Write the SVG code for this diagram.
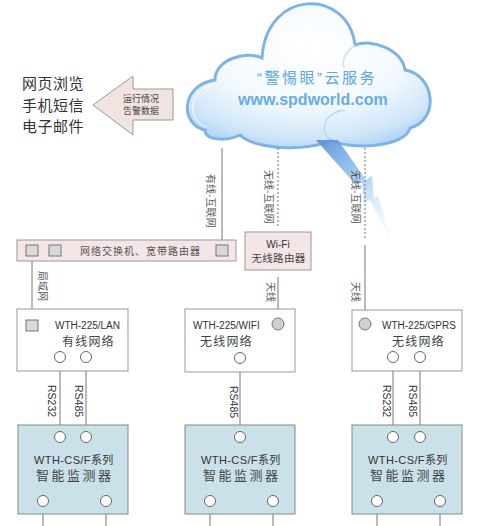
<svg xmlns="http://www.w3.org/2000/svg" width="480" height="526" viewBox="0 0 480 526">
<defs>
<radialGradient id="cloudFill" cx="0.5" cy="0.3" r="0.75">
<stop offset="0" stop-color="#ffffff"/>
<stop offset="0.55" stop-color="#f2f9fe"/>
<stop offset="0.85" stop-color="#cfe6f9"/>
<stop offset="1" stop-color="#a9d2f3"/>
</radialGradient>
<linearGradient id="bolt" x1="0" y1="0" x2="0.6" y2="1">
<stop offset="0" stop-color="#5b8fdc" stop-opacity="0.95"/>
<stop offset="0.5" stop-color="#8cc0ee" stop-opacity="0.8"/>
<stop offset="1" stop-color="#d5eafa" stop-opacity="0.3"/>
</linearGradient>
<style>
.cjk{font-family:"Noto Sans CJK SC",sans-serif;}
.lat{font-family:"Liberation Sans","Noto Sans CJK SC",sans-serif;}
.list{font-family:"Noto Sans CJK SC",sans-serif;font-size:15px;fill:#333;letter-spacing:0.5px;}
.vl{font-family:"Noto Sans CJK SC",sans-serif;font-size:10px;fill:#555;}
.rs{font-family:"Liberation Sans",sans-serif;font-size:10.5px;fill:#333;}
.box{fill:#fff;stroke:#999;stroke-width:1;}
.mon{fill:#cbe1e9;stroke:#888;stroke-width:1;}
.pink{fill:#f4e6e7;stroke:#999;stroke-width:1;}
.sq{fill:#d9d9d9;stroke:#777;stroke-width:1;}
.cw{fill:#fff;stroke:#666;stroke-width:1;}
.cg{fill:#d0d0d0;stroke:#777;stroke-width:1;}
.ln{stroke:#777;stroke-width:1;fill:none;}
.dot{stroke:#888;stroke-width:1.2;stroke-dasharray:2,2;fill:none;}
.model{font-family:"Liberation Sans",sans-serif;font-size:10px;fill:#333;}
.net{font-family:"Noto Sans CJK SC",sans-serif;font-size:12px;fill:#444;letter-spacing:1.2px;}
.m1{font-family:"Liberation Sans","Noto Sans CJK SC",sans-serif;font-size:11px;fill:#333;letter-spacing:0.4px;}
.m2{font-family:"Noto Sans CJK SC",sans-serif;font-size:13px;fill:#444;letter-spacing:2.5px;}
</style>
</defs>
<rect width="480" height="526" fill="#fff"/>

<g id="cloud">
<path d="M205,130 C180,125 180,85 215,80 C215,60 245,50 262,58 C266,-12 348,-12 355,45 C372,38 402,50 405,70 C435,75 440,120 410,128 C405,148 350,150 330,140 C310,152 255,150 240,135 C225,142 205,140 205,130 Z" fill="url(#cloudFill)" stroke="#7db4e8" stroke-width="3"/>
<path d="M207,127 C186,121 187,89 216,84" fill="none" stroke="#fff" stroke-width="1.2" opacity="0.8"/>
<path d="M330,140 C318,130 325,112 345,110" fill="none" stroke="#b9d9f4" stroke-width="1.5"/>
<path d="M355,45 C345,52 342,60 344,68" fill="none" stroke="#c4e0f6" stroke-width="1.5"/>
<polygon points="316,140 356,185 362,182 364,203 370,200 392,242 378,196 374,199 372,176 366,180 338,140" fill="url(#bolt)"/>
<text x="257" y="83" class="cjk" font-size="15" fill="#5ea6de" letter-spacing="2.5"><tspan font-family="Liberation Sans">“</tspan>警惕眼<tspan font-family="Liberation Sans">”</tspan>云服务</text>
<text x="238" y="105" class="lat" font-size="16" font-weight="bold" fill="#66ade3">www.spdworld.com</text>
</g>

<g id="clients">
<text x="22" y="89" class="list">网页浏览</text>
<text x="22" y="110.5" class="list">手机短信</text>
<text x="22" y="132" class="list">电子邮件</text>
</g>

<g id="data-arrow">
<polygon points="93,105 133,76 133,89 173,89 173,120 133,120 133,135" fill="#f1e4e0" stroke="#999" stroke-width="1"/>
<text x="141" y="102" class="cjk" font-size="9" fill="#444" text-anchor="middle">运行情况</text>
<text x="141" y="114" class="cjk" font-size="9" fill="#444" text-anchor="middle">告警数据</text>
</g>

<g id="connectors">
<line class="ln" x1="222" y1="148" x2="222" y2="245"/>
<line class="dot" x1="278" y1="148" x2="278" y2="226"/>
<line class="dot" x1="365" y1="148" x2="365" y2="238"/>
<line class="ln" x1="365" y1="245" x2="365" y2="318"/>
<line class="ln" x1="278" y1="277" x2="278" y2="318"/>
<line class="ln" x1="32" y1="256" x2="32" y2="320"/>
<line class="ln" x1="60" y1="362.5" x2="60" y2="431.5"/>
<line class="ln" x1="86" y1="362.5" x2="86" y2="431.5"/>
<line class="ln" x1="240" y1="363.5" x2="240" y2="431.5"/>
<line class="ln" x1="393" y1="362.5" x2="393" y2="431.5"/>
<line class="ln" x1="420" y1="362.5" x2="420" y2="431.5"/>
<line class="ln" x1="43" y1="506.5" x2="43" y2="526"/>
<line class="ln" x1="106" y1="506.5" x2="106" y2="526"/>
<line class="ln" x1="210" y1="506.5" x2="210" y2="526"/>
<line class="ln" x1="273" y1="506.5" x2="273" y2="526"/>
<line class="ln" x1="377" y1="506.5" x2="377" y2="526"/>
<line class="ln" x1="440" y1="506.5" x2="440" y2="526"/>
<text class="vl" transform="translate(207,174) rotate(90)">有线-互联网</text>
<text class="vl" transform="translate(265,170) rotate(90)">无线-互联网</text>
<text class="vl" transform="translate(352,170) rotate(90)">无线-互联网</text>
<text class="vl" transform="translate(39,271) rotate(90)">局域网</text>
<text class="vl" transform="translate(267,282) rotate(90)">天线</text>
<text class="vl" transform="translate(352,282) rotate(90)">天线</text>
<text class="rs" transform="translate(48,385) rotate(90)">RS232</text>
<text class="rs" transform="translate(75,385) rotate(90)">RS485</text>
<text class="rs" transform="translate(230,386) rotate(90)">RS485</text>
<text class="rs" transform="translate(383,385) rotate(90)">RS232</text>
<text class="rs" transform="translate(409,385) rotate(90)">RS485</text>
</g>

<g id="switch">
<rect x="17" y="240" width="219" height="21" class="pink"/>
<rect x="26" y="245" width="12" height="11" class="sq"/>
<rect x="49" y="245" width="12" height="11" class="sq"/>
<rect x="216" y="245" width="12" height="11" class="sq"/>
<text x="80" y="255" class="cjk" font-size="10" fill="#555" letter-spacing="1">网络交换机、宽带路由器</text>
</g>

<g id="wifi-router">
<rect x="245" y="232" width="66" height="38" class="pink"/>
<text x="278" y="248" class="lat" font-size="10" fill="#333" text-anchor="middle">Wi-Fi</text>
<text x="278.5" y="262" class="cjk" font-size="10.5" fill="#444" text-anchor="middle" letter-spacing="0.3">无线路由器</text>
</g>

<g id="lan-node">
<rect x="17" y="309" width="111" height="62" class="box"/>
<rect x="26" y="320" width="12" height="11" class="sq"/>
<text x="55" y="329" class="model">WTH-225/LAN</text>
<text x="62" y="346" class="net">有线网络</text>
<circle cx="60" cy="357" r="5.5" class="cw"/>
<circle cx="86" cy="357" r="5.5" class="cw"/>
</g>

<g id="wifi-node">
<rect x="185" y="309" width="110" height="63" class="box"/>
<circle cx="278" cy="324" r="6" class="cg"/>
<text x="193" y="329" class="model">WTH-225/WIFI</text>
<text x="200" y="346" class="net">无线网络</text>
<circle cx="240" cy="358" r="5.5" class="cw"/>
</g>

<g id="gprs-node">
<rect x="352" y="310" width="110" height="61" class="box"/>
<circle cx="365" cy="324" r="6" class="cg"/>
<text x="382" y="329" class="model">WTH-225/GPRS</text>
<text x="392" y="346" class="net">无线网络</text>
<circle cx="393" cy="357" r="5.5" class="cw"/>
<circle cx="420" cy="357" r="5.5" class="cw"/>
</g>

<g id="monitor-1">
<rect x="18" y="425" width="110" height="89" class="mon"/>
<circle cx="60" cy="437" r="5.5" class="cw"/>
<circle cx="86" cy="437" r="5.5" class="cw"/>
<text x="34" y="464" class="m1">WTH-CS/F系列</text>
<text x="36" y="480" class="m2">智能监测器</text>
<circle cx="43" cy="501" r="5.5" class="cw"/>
<circle cx="106" cy="501" r="5.5" class="cw"/>
</g>

<g id="monitor-2">
<rect x="185" y="425" width="110" height="89" class="mon"/>
<circle cx="240" cy="437" r="5.5" class="cw"/>
<text x="201" y="464" class="m1">WTH-CS/F系列</text>
<text x="203" y="480" class="m2">智能监测器</text>
<circle cx="210" cy="501" r="5.5" class="cw"/>
<circle cx="273" cy="501" r="5.5" class="cw"/>
</g>

<g id="monitor-3">
<rect x="352" y="425" width="110" height="89" class="mon"/>
<circle cx="393" cy="437" r="5.5" class="cw"/>
<circle cx="420" cy="437" r="5.5" class="cw"/>
<text x="368" y="464" class="m1">WTH-CS/F系列</text>
<text x="370" y="480" class="m2">智能监测器</text>
<circle cx="377" cy="501" r="5.5" class="cw"/>
<circle cx="440" cy="501" r="5.5" class="cw"/>
</g>
</svg>
